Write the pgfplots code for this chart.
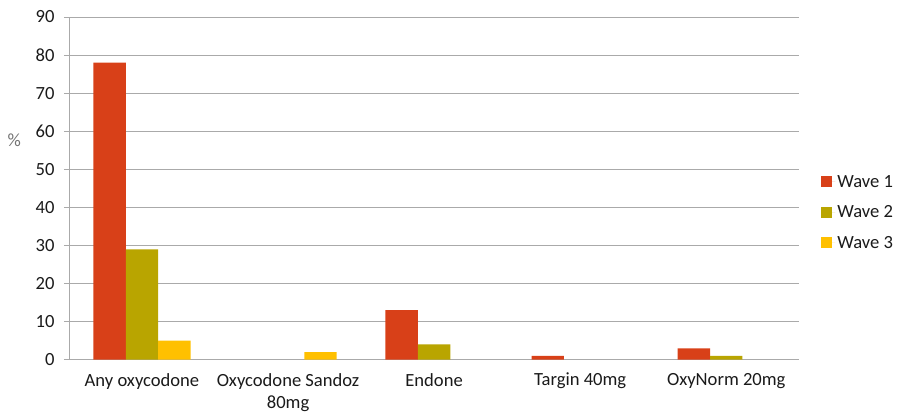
\documentclass[border=0pt]{standalone}
\usepackage{pgfplots}
\pgfplotsset{compat=1.18}
\usepackage{fontspec}
\setmainfont{Carlito}

\definecolor{waveA}{RGB}{216,64,24}
\definecolor{waveB}{RGB}{185,165,0}
\definecolor{waveC}{RGB}{255,192,0}
\definecolor{gridgray}{RGB}{170,170,170}
\definecolor{labeltext}{RGB}{26,26,26}

\newcommand{\chartfont}{\fontsize{18.6}{22}\selectfont}

\begin{document}
\begin{tikzpicture}
\begin{axis}[
  scale only axis,
  width=731pt, height=343pt,
  ymin=0, ymax=90, ytick={0,10,...,90},
  xmin=-0.5, xmax=4.5,
  xtick={0,1,2,3,4},
  xticklabels={Any oxycodone, {Oxycodone Sandoz\\80mg}, Endone, Targin 40mg, OxyNorm 20mg},
  x tick label style={align=center, text=labeltext, font=\chartfont, yshift=-5pt},
  y tick label style={text=labeltext, font=\chartfont, xshift=-6pt},
  /pgf/number format/assume math mode=true,
  major x tick style={draw=none},
  extra x ticks={-0.5,0.5,1.5,2.5,3.5,4.5},
  extra x tick labels={},
  extra x tick style={major tick length=6pt, tick align=outside, tick style={draw=gridgray, line width=0.8pt}, grid=none},
  ytick align=outside, major tick length=5pt,
  ymajorgrids,
  grid style={gridgray, line width=0.8pt},
  y tick style={gridgray, line width=0.8pt},
  axis x line*=bottom, axis y line*=left,
  axis line style={gridgray, line width=0.8pt, -},
  ybar=0pt, bar width=0.222,
  legend style={draw=none, fill=none, at={(axis description cs:1.026,0.43)}, anchor=west,
    font=\chartfont, text=labeltext, row sep=13pt},
  legend cell align=left,
  legend image code/.code={\fill[#1] (0pt,-5.5pt) rectangle (11pt,5.5pt); \path (0pt,0pt) -- (14pt,0pt);},
  clip=false,
]
% zero values are left out so that no hairline bars are drawn
\addplot[fill=waveA, draw=none] coordinates {(0,78) (2,13) (3,1) (4,3)};
\addplot[fill=waveB, draw=none] coordinates {(0,29) (2,4) (4,1)};
\addplot[fill=waveC, draw=none] coordinates {(0,5) (1,2)};
\legend{Wave 1, Wave 2, Wave 3}
\node[text=gray!90!black, font=\chartfont] at (axis description cs:-0.075,0.64) {\%};
% fixed page margins around the plot
\path (axis description cs:-0.0944,-0.166) rectangle (axis description cs:1.134,1.0496);
\end{axis}
\end{tikzpicture}
\end{document}
